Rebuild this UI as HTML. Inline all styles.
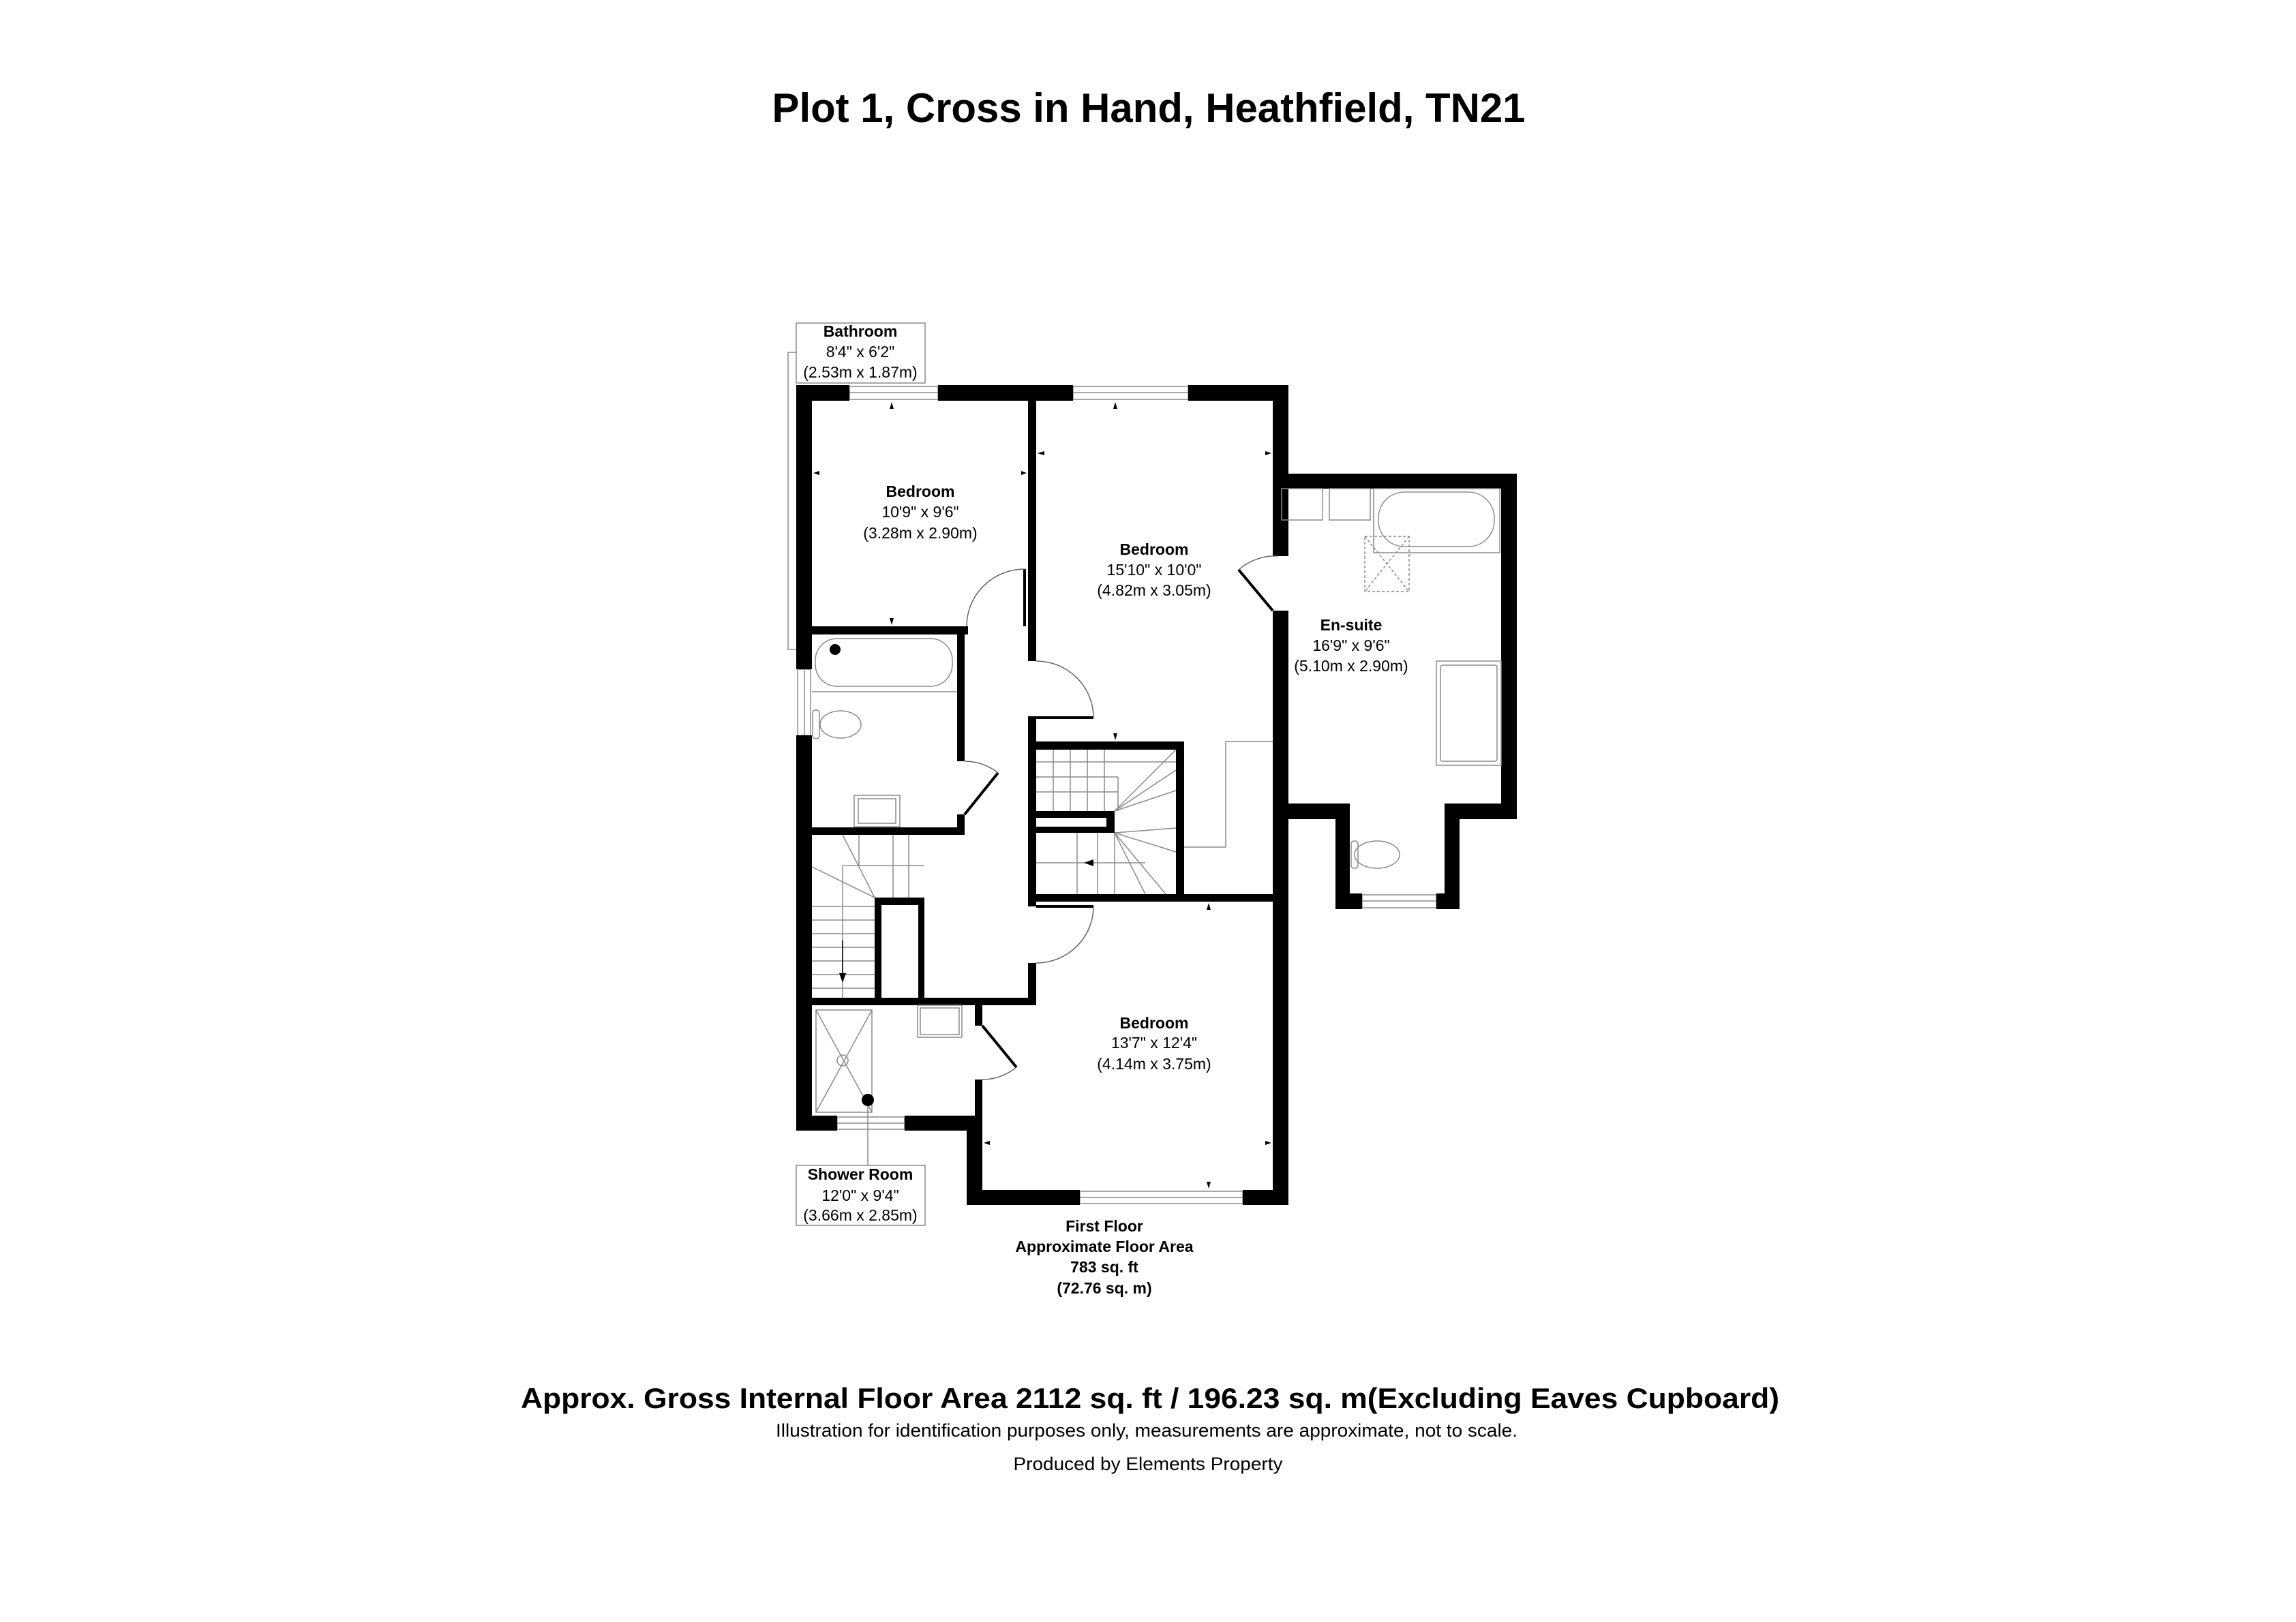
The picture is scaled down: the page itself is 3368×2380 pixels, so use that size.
<!DOCTYPE html>
<html><head><meta charset="utf-8"><style>
html,body{margin:0;padding:0;background:#fff;}
svg{display:block;}
text{font-family:"Liberation Sans",Arial,sans-serif;fill:#000;}
.b{font-weight:bold;}
.g{stroke:#8a8a8a;stroke-width:1.5;fill:none;}
.w{fill:#000;}
</style></head><body>
<svg width="3368" height="2380" viewBox="0 0 3368 2380" xmlns="http://www.w3.org/2000/svg">
<rect width="3368" height="2380" fill="#fff"/>
<text x="1685" y="179" class="b" font-size="60" text-anchor="middle" textLength="1105" lengthAdjust="spacingAndGlyphs">Plot 1, Cross in Hand, Heathfield, TN21</text>

<!-- leader lines / label boxes -->
<path class="g" d="M1168 517 H1156 V953 H1168"/>
<rect class="g" x="1168" y="474" width="189" height="88"/>
<path class="g" d="M1273 1620 V1710"/>
<rect class="g" x="1168" y="1710" width="189" height="88"/>

<!-- windows -->
<g class="g">
<rect x="1246" y="567" width="130" height="19"/><line x1="1246" y1="576" x2="1376" y2="576"/>
<rect x="1574" y="567" width="169" height="19"/><line x1="1574" y1="576" x2="1743" y2="576"/>
<rect x="1170" y="982" width="19" height="97"/><line x1="1180" y1="982" x2="1180" y2="1079"/>
<rect x="1228" y="1639" width="99" height="18"/><line x1="1228" y1="1648" x2="1327" y2="1648"/>
<rect x="1584" y="1748" width="239" height="18"/><line x1="1584" y1="1757" x2="1823" y2="1757"/>
<rect x="1998" y="1313" width="109" height="19"/><line x1="1998" y1="1322" x2="2107" y2="1322"/>
</g>

<!-- walls -->
<g class="w">
<rect x="1168" y="565" width="78" height="23"/>
<rect x="1376" y="565" width="198" height="23"/>
<rect x="1743" y="565" width="147" height="23"/>
<rect x="1168" y="565" width="23" height="417"/>
<rect x="1168" y="1079" width="23" height="580"/>
<rect x="1168" y="1637" width="60" height="22"/>
<rect x="1327" y="1637" width="114" height="22"/>
<rect x="1418" y="1637" width="23" height="131"/>
<rect x="1430" y="1584" width="11" height="75"/>
<rect x="1430" y="1475" width="11" height="30"/>
<rect x="1418" y="1746" width="166" height="22"/>
<rect x="1823" y="1746" width="67" height="22"/>
<rect x="1867" y="565" width="23" height="251"/>
<rect x="1867" y="896" width="23" height="872"/>
<rect x="1867" y="695" width="358" height="22"/>
<rect x="2202" y="695" width="23" height="507"/>
<rect x="2119" y="1179" width="106" height="23"/>
<rect x="2119" y="1179" width="22" height="155"/>
<rect x="1959" y="1311" width="39" height="23"/>
<rect x="2107" y="1311" width="34" height="23"/>
<rect x="1959" y="1179" width="21" height="155"/>
<rect x="1879" y="1179" width="101" height="23"/>
<rect x="1508" y="588" width="12" height="382"/>
<rect x="1508" y="1051" width="12" height="49"/>
<rect x="1508" y="1088" width="229" height="12"/>
<rect x="1725" y="1088" width="12" height="235"/>
<rect x="1508" y="1088" width="12" height="242"/>
<rect x="1508" y="1312" width="382" height="11"/>
<rect x="1508" y="1190" width="127" height="32"/>
<rect x="1508" y="1413" width="12" height="62"/>
<rect x="1168" y="1464" width="352" height="11"/>
<rect x="1168" y="919" width="252" height="12"/>
<rect x="1404" y="919" width="11" height="198"/>
<rect x="1404" y="1195" width="11" height="30"/>
<rect x="1168" y="1214" width="247" height="11"/>
<rect x="1283" y="1317" width="73" height="147"/>
</g>
<rect x="1520" y="1200" width="103" height="13" fill="#fff"/>
<rect x="1293" y="1328" width="54" height="136" fill="#fff"/>

<!-- doors -->
<g fill="none" stroke="#000">
<line x1="1503" y1="835" x2="1503" y2="919" stroke-width="4"/>
<path d="M1418 919 A85 84 0 0 1 1503 835" stroke="#666" stroke-width="1.5"/>
<line x1="1520" y1="1053" x2="1604" y2="1053" stroke-width="4"/>
<path d="M1520 970 A84 83 0 0 1 1604 1053" stroke="#666" stroke-width="1.5"/>
<line x1="1817" y1="836" x2="1867" y2="896" stroke-width="4"/>
<path d="M1817 836 A80 80 0 0 1 1874 816" stroke="#666" stroke-width="1.5"/>
<line x1="1415" y1="1195" x2="1464" y2="1134" stroke-width="4"/>
<path d="M1415 1117 A80 80 0 0 1 1464 1134" stroke="#666" stroke-width="1.5"/>
<line x1="1520" y1="1330" x2="1604" y2="1330" stroke-width="4"/>
<path d="M1604 1330 A84 83 0 0 1 1520 1413" stroke="#666" stroke-width="1.5"/>
<line x1="1441" y1="1505" x2="1491" y2="1566" stroke-width="4"/>
<path d="M1491 1566 A80 80 0 0 1 1441 1584" stroke="#666" stroke-width="1.5"/>
</g>

<!-- stairs -->
<g class="g">
<path d="M1798 1088 V1243 H1737 M1798 1088 H1867"/>
<path d="M1520 1118 H1725 M1520 1140 H1640 M1520 1162 H1640 M1640 1140 V1190 M1545 1100 V1190 M1570 1100 V1190 M1595 1100 V1190 M1620 1100 V1190 M1635 1190 L1725 1100 M1635 1190 L1725 1130 M1635 1190 L1725 1160 M1635 1222 L1725 1215 M1635 1222 L1725 1250 M1635 1222 L1680 1312 M1635 1222 L1710 1312 M1635 1222 V1312 M1520 1266 H1680 M1580 1222 V1312 M1610 1222 V1312"/>
<path d="M1191 1330 H1283 M1191 1350 H1283 M1191 1370 H1283 M1191 1390 H1283 M1191 1410 H1283 M1191 1430 H1283 M1191 1450 H1283 M1191 1272 L1283 1317 M1236 1225 L1283 1317 M1236 1270 V1464 M1236 1270 H1356 M1260 1225 V1270 M1310 1225 V1317 M1333 1225 V1317"/>
</g>
<line x1="1236" y1="1380" x2="1236" y2="1432" stroke="#000" stroke-width="1.5"/>
<polygon points="1231,1428 1241,1428 1236,1442" fill="#000"/>
<polygon points="1590,1266 1604,1261 1604,1271" fill="#000"/>

<!-- fixtures -->
<g class="g">
<rect x="1196" y="937" width="201" height="70" rx="32"/>
<line x1="1191" y1="1015" x2="1404" y2="1015"/>
<ellipse cx="1233" cy="1063" rx="30" ry="20"/><rect x="1192" y="1042" width="10" height="42" rx="4"/>
<rect x="1253" y="1167" width="67" height="46"/><rect x="1259" y="1172" width="55" height="36"/>
<rect x="1880" y="717" width="60" height="46"/><rect x="1950" y="717" width="60" height="46"/>
<rect x="2015" y="717" width="185" height="94"/><rect x="2022" y="722" width="170" height="80" rx="38"/>
<rect x="2002" y="787" width="65" height="81" stroke-dasharray="4 3"/>
<path d="M2002 787 L2067 868 M2067 787 L2002 868" stroke-dasharray="4 3"/>
<rect x="2107" y="970" width="95" height="153"/><rect x="2113" y="976" width="83" height="141" rx="3"/>
<ellipse cx="2020" cy="1254" rx="33" ry="20"/><rect x="1982" y="1234" width="10" height="40" rx="4"/>
<rect x="1197" y="1482" width="82" height="150"/><path d="M1197 1482 L1279 1632 M1279 1482 L1197 1632"/>
<circle cx="1236" cy="1556" r="8"/>
<rect x="1346" y="1475" width="65" height="47"/><rect x="1350" y="1479" width="57" height="39"/>
</g>
<circle cx="1225" cy="953" r="8" fill="#000"/>
<circle cx="1273" cy="1614" r="9" fill="#000"/>

<!-- dimension arrows -->
<g fill="#000">
<polygon points="1305,600 1311,600 1308,590"/><polygon points="1305,907 1311,907 1308,917"/>
<polygon points="1202,691 1202,697 1193,694"/><polygon points="1498,691 1498,697 1506,694"/>
<polygon points="1633,600 1639,600 1636,590"/><polygon points="1633,1076 1639,1076 1636,1086"/>
<polygon points="1532,662 1532,668 1522,665"/><polygon points="1856,662 1856,668 1865,665"/>
<polygon points="1770,1335 1776,1335 1773,1325"/><polygon points="1770,1734 1776,1734 1773,1744"/>
<polygon points="1452,1674 1452,1680 1443,1677"/><polygon points="1856,1674 1856,1680 1865,1677"/>
</g>

<!-- labels -->
<g font-size="23" text-anchor="middle">
<text x="1262" y="494" class="b">Bathroom</text>
<text x="1262" y="524">8'4" x 6'2"</text>
<text x="1262" y="554">(2.53m x 1.87m)</text>
<text x="1350" y="729" class="b">Bedroom</text>
<text x="1350" y="759">10'9" x 9'6"</text>
<text x="1350" y="790">(3.28m x 2.90m)</text>
<text x="1693" y="814" class="b">Bedroom</text>
<text x="1693" y="844">15'10" x 10'0"</text>
<text x="1693" y="874">(4.82m x 3.05m)</text>
<text x="1982" y="925" class="b">En-suite</text>
<text x="1982" y="955">16'9" x 9'6"</text>
<text x="1982" y="985">(5.10m x 2.90m)</text>
<text x="1693" y="1509" class="b">Bedroom</text>
<text x="1693" y="1538">13'7" x 12'4"</text>
<text x="1693" y="1569">(4.14m x 3.75m)</text>
<text x="1262" y="1731" class="b">Shower Room</text>
<text x="1262" y="1762">12'0" x 9'4"</text>
<text x="1262" y="1791">(3.66m x 2.85m)</text>
</g>
<g font-size="23" text-anchor="middle">
<text x="1620" y="1807" class="b">First Floor</text>
<text x="1620" y="1837" class="b">Approximate Floor Area</text>
<text x="1620" y="1867" class="b">783 sq. ft</text>
<text x="1620" y="1898" class="b">(72.76 sq. m)</text>
</g>

<text x="1687" y="2066" class="b" font-size="42" text-anchor="middle" textLength="1846" lengthAdjust="spacingAndGlyphs">Approx. Gross Internal Floor Area 2112 sq. ft / 196.23 sq. m(Excluding Eaves Cupboard)</text>
<text x="1682" y="2108" font-size="27" text-anchor="middle" textLength="1088" lengthAdjust="spacingAndGlyphs">Illustration for identification purposes only, measurements are approximate, not to scale.</text>
<text x="1684" y="2157" font-size="27" text-anchor="middle" textLength="395" lengthAdjust="spacingAndGlyphs">Produced by Elements Property</text>
</svg>
</body></html>
